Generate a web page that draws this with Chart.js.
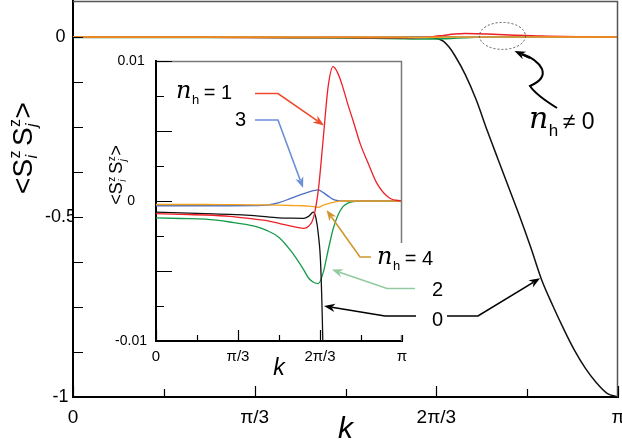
<!DOCTYPE html>
<html>
<head>
<meta charset="utf-8">
<script src="https://cdn.jsdelivr.net/npm/chart.js@4.4.1/dist/chart.umd.min.js"></script>
<style>
  html, body { margin: 0; padding: 0; background: #fff; }
  #wrap { position: relative; width: 622px; height: 442px; }
  #wrap canvas { position: absolute; left: 0; top: 0; }
</style>
</head>
<body>
<div id="wrap">
  <canvas id="mainChart" width="622" height="442"></canvas>
  <canvas id="insetChart" width="622" height="442"></canvas>
</div>
<script>
// k in units of pi
const kGrid = [0, 0.1, 0.2, 0.3, 0.4, 0.45, 0.5, 0.55, 0.6, 0.62, 0.64, 0.66, 0.68, 0.7, 0.72, 0.74, 0.76, 0.78, 0.8, 0.83, 0.86, 0.9, 0.95, 1];
const nh1 = [-0.0009, -0.00095, -0.001, -0.0011, -0.0013, -0.0014, -0.0016, -0.0018, -0.00195, -0.0018, -0.0012, 0.0008, 0.0045, 0.0082, 0.0096, 0.0091, 0.0081, 0.0069, 0.0058, 0.0041, 0.0028, 0.0012, 0.0002, 0];
const nh2 = [-0.0012, -0.00125, -0.0013, -0.0015, -0.0018, -0.0021, -0.0026, -0.0036, -0.0049, -0.0055, -0.0058, -0.0059, -0.0051, -0.0035, -0.002, -0.001, -0.0004, -0.00015, -0.00005, 0, 0, 0, 0, 0];
const nh3 = [-0.00034, -0.00034, -0.00034, -0.00034, -0.00033, -0.0003, -0.00012, 0.0002, 0.00052, 0.00064, 0.00074, 0.00079, 0.0006, 0.00035, 0.00012, 0.00002, 0, 0, 0, 0, 0, 0, 0, 0];
const nh4 = [-0.00025, -0.00025, -0.00025, -0.00026, -0.00027, -0.00028, -0.0003, -0.00032, -0.00034, -0.00036, -0.0004, -0.00045, -0.0003, -0.00018, -0.0001, -0.00003, 0, 0, 0, 0, 0, 0, 0, 0];

const kBlack = [0, 0.1, 0.2, 0.3, 0.4, 0.5, 0.55, 0.6, 0.62, 0.64, 0.65, 0.66, 0.67, 0.68, 0.69, 0.7, 0.72, 0.74, 0.76, 0.78, 0.8, 0.82, 0.84, 0.86, 0.88, 0.9, 0.92, 0.94, 0.96, 0.98, 1];
const nh0 = [-0.0008, -0.00085, -0.0009, -0.00095, -0.00105, -0.0012, -0.00123, -0.00124, -0.0011, -0.0008, -0.0012, -0.0024, -0.0048, -0.012, -0.028, -0.05, -0.105, -0.175, -0.26, -0.34, -0.42, -0.5, -0.585, -0.675, -0.745, -0.81, -0.87, -0.92, -0.96, -0.99, -1];

const xTickValues = [0, 1/6, 1/3, 1/2, 2/3, 5/6, 1];
const xTickLabels = ['0', '', '\u03c0/3', '', '2\u03c0/3', '', '\u03c0'];
const mainYTickValues = [-1, -0.875, -0.75, -0.625, -0.5, -0.375, -0.25, -0.125, 0];
const mainYTickLabels = ['-1', '', '', '', '-0.5', '', '', '', '0'];
const insetYTickValues = [-0.01, -0.0075, -0.005, -0.0025, 0, 0.0025, 0.005, 0.0075, 0.01];
const insetYTickLabels = ['-0.01', '', '', '', '0', '', '', '', '0.01'];

const FONT = "'Liberation Sans', Arial, sans-serif";
const colors = { nh0: '#111111', nh1: '#ec2027', nh2: '#159a4a', nh3: '#4a6fc4', nh4: '#f6a21d' };

Chart.defaults.font.family = FONT;
Chart.defaults.color = '#000';

function pts(xs, ys) { return xs.map((x, i) => ({ x: x, y: ys[i] })); }

function line(data, color, width, order) {
  return { data: data, borderColor: color, borderWidth: width, pointRadius: 0,
           cubicInterpolationMode: 'monotone', fill: false, order: order };
}

// <S_i^z S_j^z> rotated label
function drawSpinLabel(ctx, cx, cy, size) {
  const big = size + 'px ' + FONT;
  const sup = Math.round(size * 0.58) + 'px ' + FONT;
  const sub = 'italic ' + Math.round(size * 0.58) + 'px ' + FONT;
  const seq = [['<'], ['S'], ['z', 'i'], [' '], ['S'], ['z', 'j'], ['>']];
  const widths = seq.map(p => {
    if (p.length === 1) { ctx.font = big; return ctx.measureText(p[0]).width * (p[0] === ' ' ? 0.5 : 1); }
    ctx.font = sup; const a = ctx.measureText(p[0]).width;
    ctx.font = sub; const b = ctx.measureText(p[1]).width;
    return Math.max(a, b) + 1;
  });
  const total = widths.reduce((s, w) => s + w, 0);
  ctx.save();
  ctx.translate(cx, cy);
  ctx.rotate(-Math.PI / 2);
  ctx.fillStyle = '#000';
  ctx.textBaseline = 'alphabetic';
  ctx.textAlign = 'left';
  let x = -total / 2;
  const base = size * 0.34;
  seq.forEach((p, i) => {
    if (p.length === 1) {
      if (p[0] !== ' ') { ctx.font = big; ctx.fillText(p[0], x, base); }
    } else {
      ctx.font = sup; ctx.fillText(p[0], x + 0.5, base - size * 0.42);
      ctx.font = sub; ctx.fillText(p[1], x + 0.5, base + size * 0.2);
    }
    x += widths[i];
  });
  ctx.restore();
}

function drawNh(ctx, x, base, rest, nSize, restSize) {
  ctx.textAlign = 'left';
  ctx.textBaseline = 'alphabetic';
  ctx.font = 'italic ' + nSize + "px 'DejaVu Serif'";
  ctx.fillText('n', x, base);
  const w = ctx.measureText('n').width;
  ctx.font = Math.round(nSize * 0.55) + 'px ' + FONT;
  ctx.fillText('h', x + w + 0.5, base + nSize * 0.25);
  const hw = ctx.measureText('h').width;
  ctx.font = restSize + 'px ' + FONT;
  ctx.fillText(rest, x + w + hw + 5, base + 1);
}

function arrow(ctx, path, color, width) {
  const n = path.length;
  const [x1, y1] = path[n - 2], [x2, y2] = path[n - 1];
  const ang = Math.atan2(y2 - y1, x2 - x1);
  const L = 11, W = 4.2;
  ctx.save();
  ctx.strokeStyle = color; ctx.fillStyle = color; ctx.lineWidth = width;
  ctx.beginPath();
  ctx.moveTo(path[0][0], path[0][1]);
  for (let i = 1; i < n - 1; i++) ctx.lineTo(path[i][0], path[i][1]);
  ctx.lineTo(x2 - 8 * Math.cos(ang), y2 - 8 * Math.sin(ang));
  ctx.stroke();
  ctx.beginPath();
  ctx.moveTo(x2, y2);
  ctx.lineTo(x2 - L * Math.cos(ang) + W * Math.sin(ang), y2 - L * Math.sin(ang) - W * Math.cos(ang));
  ctx.lineTo(x2 - 0.7 * L * Math.cos(ang), y2 - 0.7 * L * Math.sin(ang));
  ctx.lineTo(x2 - L * Math.cos(ang) - W * Math.sin(ang), y2 - L * Math.sin(ang) + W * Math.cos(ang));
  ctx.closePath();
  ctx.fill();
  ctx.restore();
}

// inward tick marks + grey top/right frame
const inwardTicks = {
  id: 'inwardTicks',
  afterDatasetsDraw(chart, args, opts) {
    const { ctx, chartArea: a, scales } = chart;
    ctx.save();
    ctx.strokeStyle = opts.frameColor;
    ctx.lineWidth = 1.5;
    ctx.beginPath();
    ctx.moveTo(a.left, a.top + 0.5);
    ctx.lineTo(a.right - 0.5, a.top + 0.5);
    ctx.lineTo(a.right - 0.5, a.bottom);
    ctx.stroke();
    ctx.strokeStyle = '#000';
    ctx.lineWidth = 1.2;
    ctx.beginPath();
    opts.xTicks.forEach(([v, len]) => {
      const px = Math.round(scales.x.getPixelForValue(v)) + 0.5;
      ctx.moveTo(px, a.bottom); ctx.lineTo(px, a.bottom - len);
    });
    opts.yTicks.forEach(([v, len]) => {
      const py = Math.round(scales.y.getPixelForValue(v)) + 0.5;
      ctx.moveTo(a.left, py); ctx.lineTo(a.left + len, py);
    });
    ctx.stroke();
    ctx.restore();
  }
};

const mainDecor = {
  id: 'mainDecor',
  afterDraw(chart) {
    const { ctx, scales } = chart;
    drawSpinLabel(ctx, 22, 148, 28);
    // dashed ellipse around the n_h != 0 bump
    const cx = scales.x.getPixelForValue(0.788), cy = scales.y.getPixelForValue(0.003);
    ctx.save();
    ctx.strokeStyle = '#555';
    ctx.lineWidth = 1;
    ctx.setLineDash([2, 2]);
    ctx.beginPath();
    ctx.ellipse(cx, cy, 23, 13.5, 0, 0, Math.PI * 2);
    ctx.stroke();
    ctx.setLineDash([]);
    // wavy arrow
    ctx.strokeStyle = '#000';
    ctx.lineWidth = 2;
    ctx.beginPath();
    ctx.moveTo(557, 108);
    ctx.quadraticCurveTo(536, 95, 530, 86);
    ctx.quadraticCurveTo(546, 79, 542, 69);
    ctx.quadraticCurveTo(537, 59, 522, 54);
    ctx.stroke();
    ctx.restore();
    arrow(ctx, [[530, 58], [cx + 12, cy + 15]], '#000', 2);
    ctx.fillStyle = '#000';
    drawNh(ctx, 529, 128, '\u2260 0', 30, 23);
  }
};

const insetDecor = {
  id: 'insetDecor',
  afterDraw(chart) {
    const { ctx, scales } = chart;
    const X = v => scales.x.getPixelForValue(v), Y = v => scales.y.getPixelForValue(v);
    drawSpinLabel(ctx, 116, 175, 18);
    // label box for n_h = 4 / 2 / 0
    ctx.fillStyle = '#fff';
    ctx.fillRect(373, 243, 79, 92);

    arrow(ctx, [[255, 93.5], [278, 93.5], [X(0.683), Y(0.0054)]], '#ee4b2b', 1.6);
    arrow(ctx, [[255, 120], [278, 120], [X(0.598), Y(0.00093)]], '#6b8fd6', 1.6);
    arrow(ctx, [[371, 257], [360, 257], [X(0.693), Y(-0.00064)]], '#d1962e', 1.6);
    arrow(ctx, [[415, 288.5], [387, 288.5], [X(0.715), Y(-0.0049)]], '#93c99f', 1.6);
    arrow(ctx, [[416, 316], [385, 316], [X(0.683), Y(-0.0075)]], '#000', 1.6);
    const ms = mainChart.scales;
    arrow(ctx, [[447, 316], [478, 316], [ms.x.getPixelForValue(0.857), ms.y.getPixelForValue(-0.67)]], '#000', 1.6);

    ctx.fillStyle = '#000';
    drawNh(ctx, 176, 98, '= 1', 24, 20);
    drawNh(ctx, 377, 264, '= 4', 24, 20);
    ctx.font = '20px ' + FONT;
    ctx.textAlign = 'right';
    ctx.textBaseline = 'alphabetic';
    ctx.fillText('3', 246, 126);
    ctx.fillText('2', 443, 295.5);
    ctx.fillText('0', 443, 326);
  }
};

function xScale(fontSize, padding, titleSize, titlePad, height) {
  return {
    type: 'linear', min: 0, max: 1,
    grid: { display: false },
    border: { display: true, color: '#000', width: 2 },
    afterBuildTicks: s => { s.ticks = xTickValues.map(v => ({ value: v })); },
    afterFit: s => { s.height = height; s.paddingLeft = 0; s.paddingRight = 0; },
    ticks: { autoSkip: false, maxRotation: 0, padding: padding, font: { size: fontSize },
             callback: (v, i) => xTickLabels[i] },
    title: { display: true, text: 'k', font: { size: titleSize, style: 'italic' },
             padding: { top: 0, bottom: titlePad } }
  };
}

const mainChart = new Chart(document.getElementById('mainChart'), {
  type: 'line',
  data: {
    datasets: [
      line(pts(kGrid, nh4), colors.nh4, 1.5, 0),
      line(pts(kGrid, nh1), colors.nh1, 1.5, 1),
      line(pts(kGrid, nh3), colors.nh3, 1.5, 2),
      line(pts(kGrid, nh2), colors.nh2, 1.5, 3),
      line(pts(kBlack, nh0), colors.nh0, 1.5, 4)
    ]
  },
  options: {
    responsive: false, animation: false, events: [],
    layout: { padding: { left: 0, right: 4, top: 1, bottom: 0 } },
    plugins: {
      legend: { display: false }, tooltip: { enabled: false },
      inwardTicks: {
        frameColor: '#555',
        xTicks: xTickValues.map((v, i) => [v, xTickLabels[i] ? 11 : 8]),
        yTicks: mainYTickValues.map(v => [v, 10])
      }
    },
    scales: {
      x: xScale(19, 1, 30, -6, 45),
      y: {
        type: 'linear', min: -1, max: 0.1,
        grid: { display: false },
        border: { display: true, color: '#000', width: 2 },
        afterBuildTicks: s => { s.ticks = mainYTickValues.map(v => ({ value: v })); },
        afterFit: s => { s.width = 73; s.paddingTop = 0; s.paddingBottom = 0; },
        ticks: { autoSkip: false, crossAlign: 'center', padding: -11, font: { size: 18 },
                 callback: (v, i) => mainYTickLabels[i] }
      }
    }
  },
  plugins: [inwardTicks, mainDecor]
});

const insetChart = new Chart(document.getElementById('insetChart'), {
  type: 'line',
  data: {
    datasets: [
      line(pts(kGrid, nh1), colors.nh1, 1.3, 0),
      line(pts(kBlack, nh0), colors.nh0, 1.3, 1),
      line(pts(kGrid, nh4), colors.nh4, 1.3, 2),
      line(pts(kGrid, nh3), colors.nh3, 1.3, 3),
      line(pts(kGrid, nh2), colors.nh2, 1.3, 4)
    ]
  },
  options: {
    responsive: false, animation: false, events: [],
    layout: { padding: { left: 100, right: 220, top: 61, bottom: 66 } },
    plugins: {
      legend: { display: false }, tooltip: { enabled: false },
      inwardTicks: {
        frameColor: '#7a7a7a',
        xTicks: xTickValues.map((v, i) => [v, xTickLabels[i] ? 11 : 6]),
        yTicks: insetYTickValues.map((v, i) => [v, i % 2 === 0 ? 16 : 8])
      }
    },
    scales: {
      x: xScale(15, -1, 23, -6, 35),
      y: {
        type: 'linear', min: -0.01, max: 0.01,
        grid: { display: false },
        border: { display: true, color: '#000', width: 2 },
        afterBuildTicks: s => { s.ticks = insetYTickValues.map(v => ({ value: v })); },
        afterFit: s => { s.width = 56; s.paddingTop = 0; s.paddingBottom = 0; },
        ticks: { autoSkip: false, crossAlign: 'center', padding: 1, font: { size: 14 },
                 callback: (v, i) => insetYTickLabels[i] }
      }
    }
  },
  plugins: [inwardTicks, insetDecor]
});
</script>
</body>
</html>
